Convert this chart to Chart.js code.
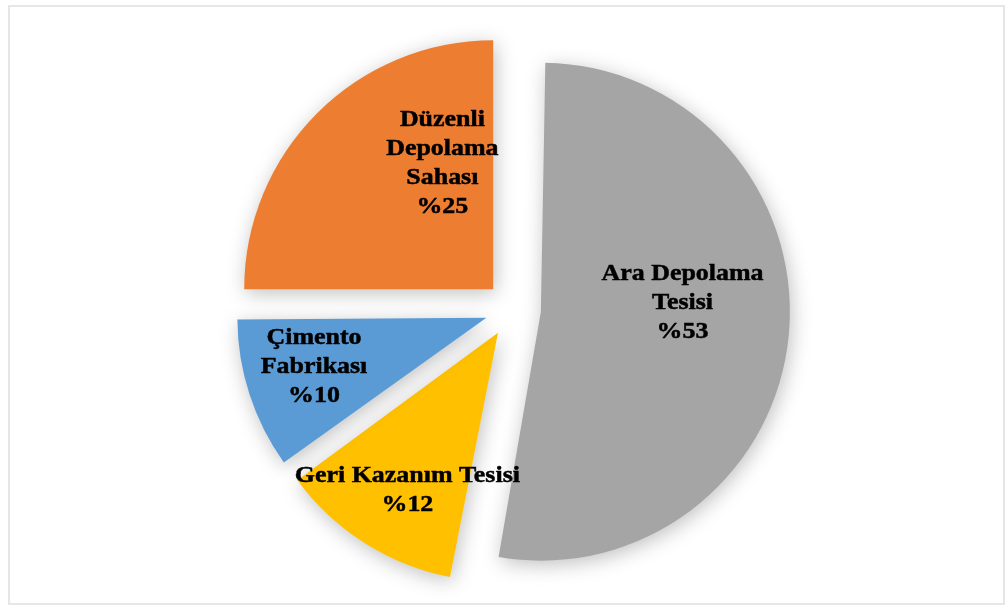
<!DOCTYPE html>
<html>
<head>
<meta charset="utf-8">
<script src="https://cdn.jsdelivr.net/npm/chart.js@4.4.0/dist/chart.umd.min.js"></script>
<style>
  html, body { margin: 0; padding: 0; background: #fff; }
  #wrap { position: relative; width: 1008px; height: 609px; }
  #frame { position: absolute; left: 8px; top: 5px; width: 997px; height: 600px; border: 2px solid #e6e6e6; box-sizing: border-box; }
  canvas { position: absolute; left: 0; top: 0; }
</style>
</head>
<body>
<div id="wrap">
  <div id="frame"></div>
  <canvas id="pieChart" width="1008" height="609"></canvas>
</div>
<script>
// data (clockwise from 12 o'clock)
const categories = ["Ara Depolama Tesisi", "Geri Kazanım Tesisi", "Çimento Fabrikası", "Düzenli Depolama Sahası"];
const shares = [53, 12, 10, 25];
const labelLines = [["Ara Depolama", "Tesisi"], ["Geri Kazanım Tesisi"], ["Çimento", "Fabrikası"], ["Düzenli", "Depolama", "Sahası"]];
const colors = ["#A5A5A5", "#FFC000", "#5B9BD5", "#ED7D31"];

const PIE_R = 249;
const EXPLODE = 112; // chart.js moves slices by offset/4

// where each label sits inside its slice: angle shift (deg) from mid-angle, fraction of radius
const labelPlace = [
  {shift: -9, frac: 0.57},
  {shift: -2.5, frac: 0.73},
  {shift: 2, frac: 0.72},
  {shift: 23, frac: 0.545}
];

const sliceLabels = {
  id: "sliceLabels",
  beforeDatasetsDraw(chart) {
    // chart.js grows wide exploded slices by the offset; keep every slice the same size
    const off = EXPLODE / 4;
    chart.getDatasetMeta(0).data.forEach(arc => {
      const circ = arc.endAngle - arc.startAngle;
      const fix = 1 - Math.sin(Math.min(Math.PI, circ));
      arc.outerRadius = PIE_R - off * fix;
    });
    const ctx = chart.ctx;
    ctx.save();
    ctx.shadowColor = "rgba(0,0,0,0.25)";
    ctx.shadowBlur = 20;
    ctx.shadowOffsetX = 2;
    ctx.shadowOffsetY = 4;
  },
  afterDatasetsDraw(chart) {
    const ctx = chart.ctx;
    ctx.restore();
    const meta = chart.getDatasetMeta(0);
    ctx.save();
    ctx.fillStyle = "#000";
    ctx.strokeStyle = "#000";
    ctx.lineWidth = 0.5;
    ctx.font = "bold 24px 'Liberation Serif', 'Times New Roman', serif";
    ctx.textAlign = "center";
    ctx.textBaseline = "middle";
    const off = EXPLODE / 4;
    meta.data.forEach((arc, i) => {
      const mid = (arc.startAngle + arc.endAngle) / 2;
      const ax = arc.x + Math.cos(mid) * off;
      const ay = arc.y + Math.sin(mid) * off;
      const a = mid + labelPlace[i].shift * Math.PI / 180;
      const r = PIE_R * labelPlace[i].frac;
      const cx = ax + Math.cos(a) * r;
      const cy = ay + Math.sin(a) * r;
      const lines = labelLines[i].concat(["%" + shares[i]]);
      const lh = 29;
      lines.forEach((t, k) => {
        const y = cy + (k - (lines.length - 1) / 2) * lh;
        ctx.save();
        ctx.translate(cx, y);
        ctx.scale(1.08, 1);
        ctx.fillText(t, 0, 0);
        ctx.strokeText(t, 0, 0);
        ctx.restore();
      });
    });
    ctx.restore();
  }
};

new Chart(document.getElementById("pieChart"), {
  type: "pie",
  data: {
    labels: categories,
    datasets: [{
      data: shares,
      backgroundColor: colors,
      borderWidth: 0,
      offset: EXPLODE
    }]
  },
  options: {
    responsive: false,
    animation: false,
    radius: PIE_R,
    layout: { padding: { left: 18, right: 0, top: 9, bottom: 0 } },
    plugins: {
      legend: { display: false },
      tooltip: { enabled: false }
    }
  },
  plugins: [sliceLabels]
});
</script>
</body>
</html>
